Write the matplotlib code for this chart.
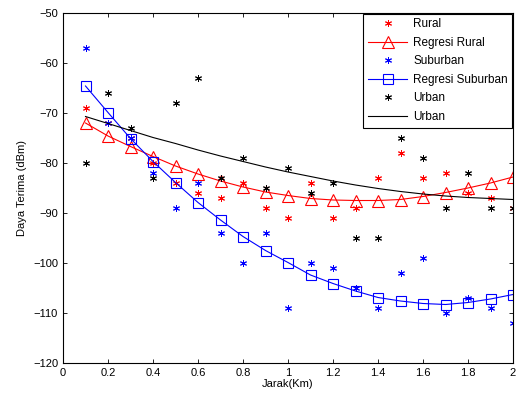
import matplotlib
matplotlib.use("Agg")
import matplotlib.pyplot as plt

plt.rcParams['font.family'] = ['Liberation Sans', 'DejaVu Sans']

# distance (km)
jarak = [0.1, 0.2, 0.3, 0.4, 0.5, 0.6, 0.7, 0.8, 0.9, 1.0,
         1.1, 1.2, 1.3, 1.4, 1.5, 1.6, 1.7, 1.8, 1.9, 2.0]

# measured received power (dBm)
rural = [-69, -72, -75, -80, -84, -86, -87, -84, -89, -91,
         -84, -91, -89, -83, -78, -83, -82, -86, -87, -89]
suburban = [-57, -72, -75, -82, -89, -84, -94, -100, -94, -109,
            -100, -101, -105, -109, -102, -99, -110, -107, -109, -112]
urban = [-80, -66, -73, -83, -68, -63, -83, -79, -85, -81,
         -86, -84, -95, -95, -75, -79, -89, -82, -89, -89]

# regression curves
reg_rural = [-72.0, -74.6, -76.7, -78.7, -80.6, -82.2, -83.6, -84.8, -85.8, -86.5,
             -87.1, -87.4, -87.5, -87.5, -87.3, -86.7, -85.9, -85.0, -84.0, -82.8]
reg_suburban = [-64.6, -69.9, -75.1, -79.7, -83.9, -87.9, -91.4, -94.7, -97.5, -99.9,
                -102.4, -104.1, -105.6, -106.9, -107.6, -108.1, -108.3, -107.9, -107.2, -106.3]
reg_urban = [-70.7, -72.1, -73.5, -74.9, -76.1, -77.4, -78.6, -79.7, -80.8, -81.8,
             -82.7, -83.6, -84.4, -85.1, -85.7, -86.2, -86.6, -86.9, -87.1, -87.3]

x_ticks = [0, 0.2, 0.4, 0.6, 0.8, 1, 1.2, 1.4, 1.6, 1.8, 2]
x_labels = ['0', '0.2', '0.4', '0.6', '0.8', '1', '1.2', '1.4', '1.6', '1.8', '2']
y_ticks = [-120, -110, -100, -90, -80, -70, -60, -50]

fig = plt.figure(figsize=(5.21, 3.99), dpi=100)
ax = fig.add_axes([63 / 521, 36 / 399, 450 / 521, 350 / 399])

star = (6, 2, 0)
ax.plot(jarak, rural, linestyle='none', marker=star, color='red', markersize=5,
        markeredgewidth=0.7, label='Rural')
ax.plot(jarak, reg_rural, color='red', linewidth=0.8, marker='^', markersize=8,
        fillstyle='none', markeredgewidth=0.8, label='Regresi Rural')
ax.plot(jarak, suburban, linestyle='none', marker=star, color='blue', markersize=5,
        markeredgewidth=0.7, label='Suburban')
ax.plot(jarak, reg_suburban, color='blue', linewidth=0.8, marker='s', markersize=7,
        fillstyle='none', markeredgewidth=0.8, label='Regresi Suburban')
ax.plot(jarak, urban, linestyle='none', marker=star, color='black', markersize=5,
        markeredgewidth=0.7, label='Urban')
ax.plot(jarak, reg_urban, color='black', linewidth=0.8, label='Urban')

ax.set_xlim(0, 2)
ax.set_ylim(-120, -50)
ax.set_xticks(x_ticks)
ax.set_xticklabels(x_labels)
ax.set_yticks(y_ticks)
ax.tick_params(direction='in', top=True, right=True, labelsize=8, length=3, width=0.6)
for spine in ax.spines.values():
    spine.set_linewidth(0.8)

ax.set_xlabel('Jarak(Km)', fontsize=8, labelpad=1)
ax.set_ylabel('Daya Terima (dBm)', fontsize=8, labelpad=4)

leg = ax.legend(loc='upper right', fontsize=8.5, fancybox=False, framealpha=1,
                edgecolor='black', borderaxespad=0.05, handlelength=3.3,
                handletextpad=0.5, labelspacing=0.55, borderpad=0.4)
leg.get_frame().set_linewidth(0.8)

fig.savefig('out.png', dpi=100)
